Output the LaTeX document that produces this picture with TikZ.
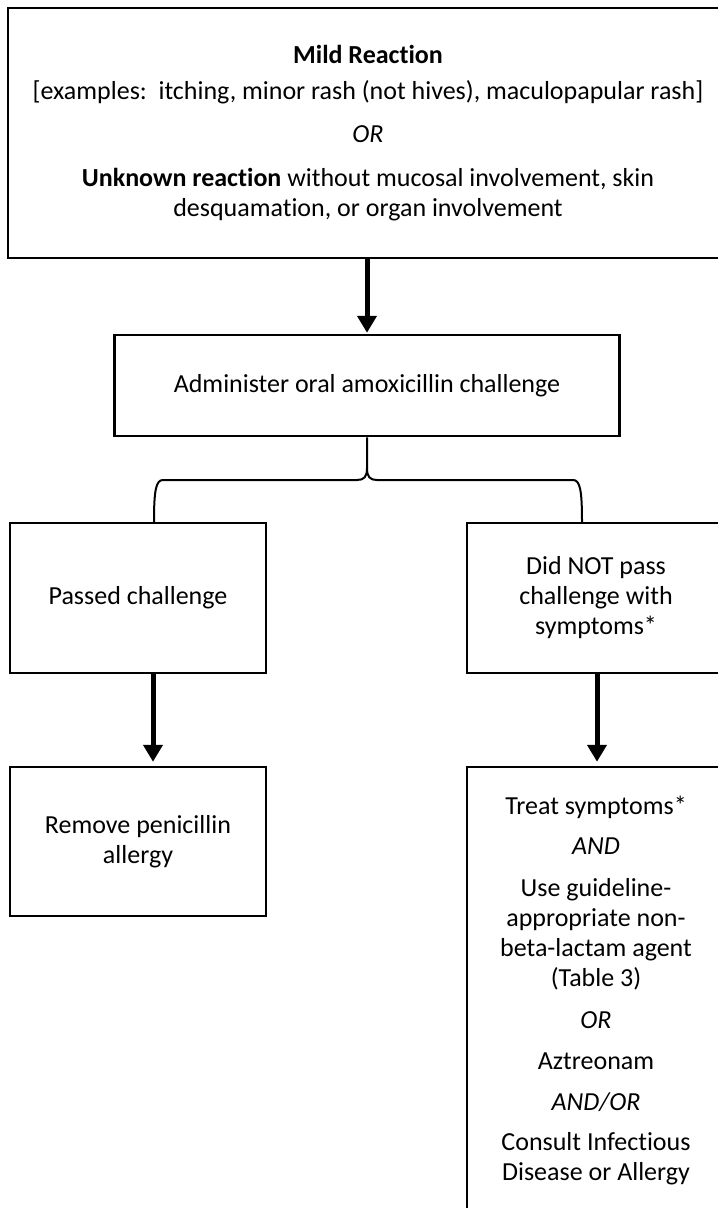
\documentclass[tikz,border=0pt]{standalone}
\usepackage{fontspec}
\setmainfont{Carlito}[Ligatures=NoCommon]
\usetikzlibrary{arrows.meta}
\newcommand\boxfont{\fontsize{26bp}{30bp}\selectfont}
\begin{document}
\begin{tikzpicture}[x=1bp,y=-1bp,
  box/.style={draw, line width=2.5bp, inner sep=0pt, align=center, font=\boxfont},
  flow/.style={line width=5bp, -{Triangle[length=17bp,width=19bp]}},
  bracket/.style={line width=2bp}]
\useasboundingbox (0,0) rectangle (718,1208);
\clip (0,0) rectangle (718,1208);

\node[box, minimum width=720bp, minimum height=250bp] (mild) at (368,133)
  {\textbf{Mild Reaction}\\[6bp]
   [examples:\ \ itching, minor rash (not hives), maculopapular rash]\\[13bp]
   \textit{OR}\\[14bp]
   \textbf{Unknown reaction} without mucosal involvement, skin\\
   desquamation, or organ involvement};

\node[box, minimum width=505bp, minimum height=101bp] (admin) at (367,385.5)
  {Administer oral amoxicillin challenge};

\node[box, minimum width=256bp, minimum height=150bp] (pass) at (138,598)
  {Passed challenge};

\node[box, minimum width=258bp, minimum height=150bp] (notpass) at (596,598)
  {Did NOT pass\\challenge with\\symptoms*};

\node[box, minimum width=256bp, minimum height=149bp] (remove) at (138,841.5)
  {Remove penicillin\\allergy};

\node[box, minimum width=258bp, minimum height=446bp] (treat) at (596,990)
  {Treat symptoms*\\[10bp]
   \textit{AND}\\[12bp]
   Use guideline-\\appropriate non-\\beta-lactam agent\\(Table 3)\\[12bp]
   \textit{OR}\\[11bp]
   Aztreonam\\[11bp]
   \textit{AND/OR}\\[10bp]
   Consult Infectious\\Disease or Allergy};

% arrows
\draw[flow] (mild.south -| admin.north) -- ([yshift=1bp]admin.north);
\draw[flow, shorten >=4bp] ([xshift=15bp]pass.south) -- ([xshift=15bp]remove.north);
\draw[flow, shorten >=4bp] ([xshift=1bp]notpass.south) -- ([xshift=1bp]treat.north);

% bracket
\coordinate (bl) at ([xshift=16bp]pass.north);
\coordinate (br) at ([xshift=-14bp]notpass.north);
\draw[bracket] (admin.south) -- (367,468)
  .. controls (367,477) and (364,480) .. (357,480) -- (163,480)
  .. controls (156,480) and (154,490) .. (bl);
\draw[bracket] (367,468)
  .. controls (367,477) and (370,480) .. (377,480) -- (573,480)
  .. controls (580,480) and (582,490) .. (br);
\end{tikzpicture}
\end{document}
